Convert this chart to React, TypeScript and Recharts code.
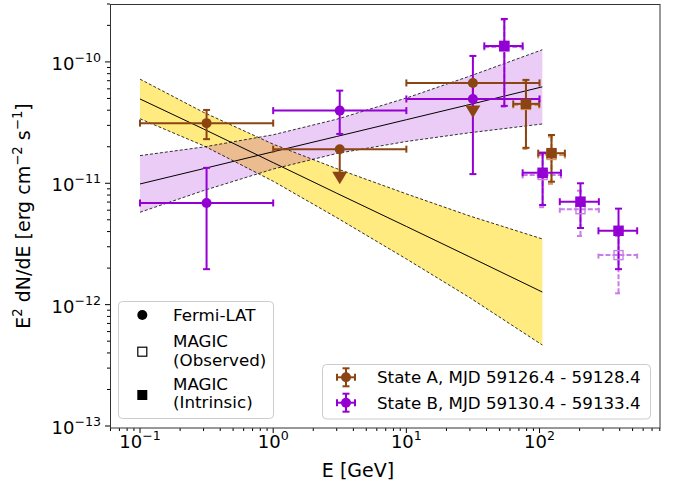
import React from 'react';
import { ComposedChart, XAxis, YAxis, Area, Line, Scatter, ErrorBar } from 'recharts';

// ---------- data ----------
const X_DOMAIN: [number, number] = [0.0595, 803];
const Y_DOMAIN: [number, number] = [9.63e-14, 3.0e-10];

const X_MAJOR = [0.1, 1, 10, 100];
const Y_MAJOR = [1e-13, 1e-12, 1e-11, 1e-10];
const MULT = [1, 2, 3, 4, 5, 6, 7, 8, 9];
const X_TICKS = [0.06, 0.07, 0.08, 0.09, ...[0.1, 1, 10, 100].flatMap((d) => MULT.map((m) => +(d * m).toPrecision(3)))].filter(
  (v) => v >= X_DOMAIN[0] && v <= X_DOMAIN[1]
);
const Y_TICKS = [1e-13, 1e-12, 1e-11, 1e-10].flatMap((d) => MULT.map((m) => +(d * m).toPrecision(3))).filter(
  (v) => v >= Y_DOMAIN[0] && v <= Y_DOMAIN[1]
);

// butterfly bands
const bandE = [0.1, 0.3, 1, 3, 10, 30, 105];
const bandA_lo = [3.4e-11, 2.04e-11, 1.04e-11, 5.21e-12, 2.38e-12, 1.14e-12, 4.65e-13];
const bandA_mid = [4.95e-11, 2.8e-11, 1.48e-11, 8.28e-12, 4.41e-12, 2.47e-12, 1.27e-12];
const bandA_hi = [7.21e-11, 3.84e-11, 2.1e-11, 1.32e-11, 8.18e-12, 5.37e-12, 3.48e-12];
const bandB_lo = [5.77e-12, 8.71e-12, 1.31e-11, 1.76e-11, 2.21e-11, 2.61e-11, 3.08e-11];
const bandB_mid = [9.87e-12, 1.32e-11, 1.82e-11, 2.43e-11, 3.34e-11, 4.46e-11, 6.23e-11];
const bandB_hi = [1.69e-11, 1.99e-11, 2.51e-11, 3.37e-11, 5.04e-11, 7.64e-11, 1.26e-10];

// Fermi-LAT, State A
const fermiA = [{ E: 0.316, Elo: 0.1, Ehi: 1, F: 3.13e-11, Flo: 2.31e-11, Fhi: 4.02e-11 }];
const fermiA_UL = [
  { E: 3.16, Elo: 1, Ehi: 10, F: 1.91e-11, Ftip: 1.11e-11 },
  { E: 31.6, Elo: 10, Ehi: 100, F: 6.71e-11, Ftip: 3.91e-11 },
];
// Fermi-LAT, State B
const fermiB = [
  { E: 0.316, Elo: 0.1, Ehi: 1, F: 6.88e-12, Flo: 1.96e-12, Fhi: 1.34e-11 },
  { E: 3.16, Elo: 1, Ehi: 10, F: 3.97e-11, Flo: 2.55e-11, Fhi: 5.8e-11 },
  { E: 31.6, Elo: 10, Ehi: 100, F: 4.95e-11, Flo: 1.19e-11, Fhi: 1.12e-10 },
];
// MAGIC, State A
const magicA_int = [
  { E: 79.1, Elo: 63.5, Ehi: 99.5, F: 4.51e-11, Flo: 1.96e-11, Fhi: 7.11e-11 },
  { E: 123, Elo: 97.8, Ehi: 155, F: 1.77e-11, Flo: 1.03e-11, Fhi: 2.5e-11 },
];
const magicA_obs = [
  { E: 79.1, Elo: 63.5, Ehi: 99.5, F: 4.42e-11, Flo: 1.92e-11, Fhi: 6.98e-11 },
  { E: 123, Elo: 97.8, Ehi: 155, F: 1.71e-11, Flo: 0.99e-11, Fhi: 2.42e-11 },
];
// MAGIC, State B
const magicB_int = [
  { E: 54.4, Elo: 38.5, Ehi: 74.7, F: 1.355e-10, Flo: 4.34e-11, Fhi: 2.26e-10 },
  { E: 105.5, Elo: 74.7, Ehi: 144.8, F: 1.22e-11, Flo: 6.62e-12, Fhi: 1.79e-11 },
  { E: 203, Elo: 142, Ehi: 279, F: 7.05e-12, Flo: 4.28e-12, Fhi: 1.0e-11 },
  { E: 392, Elo: 277, Ehi: 541, F: 4.06e-12, Flo: 1.96e-12, Fhi: 6.18e-12 },
];
const magicB_obs = [
  { E: 54.4, Elo: 38.5, Ehi: 74.7, F: 1.33e-10, Flo: 4.25e-11, Fhi: 2.22e-10 },
  { E: 105.5, Elo: 74.7, Ehi: 144.8, F: 1.17e-11, Flo: 6.35e-12, Fhi: 1.72e-11 },
  { E: 203, Elo: 142, Ehi: 279, F: 6.11e-12, Flo: 3.68e-12, Fhi: 8.69e-12 },
  { E: 392, Elo: 277, Ehi: 541, F: 2.56e-12, Flo: 1.24e-12, Fhi: 3.68e-12 },
];

// ---------- styles ----------
const BROWN = '#8B4513';
const BROWN_LIGHT = '#D8955E';
const VIOLET = '#9400D3';
const VIOLET_LIGHT = '#C77EE8';
const FONT = 'DejaVu Sans';

const toPts = (arr: any[]) =>
  arr.map((d) => ({ x: d.E, y: d.F, ex: [d.E - d.Elo, d.Ehi - d.E], ey: [d.F - d.Flo, d.Fhi - d.F] }));
const toUL = (arr: any[]) => arr.map((d) => ({ x: d.E, y: d.F, ex: [d.E - d.Elo, d.Ehi - d.E], ey: [d.F - d.Ftip, 0] }));
const toTip = (arr: any[]) => arr.map((d) => ({ x: d.E, y: d.Ftip }));

const bandRows = bandE.map((x, i) => ({
  x,
  aBand: [bandA_lo[i], bandA_hi[i]],
  aLo: bandA_lo[i],
  aMid: bandA_mid[i],
  aHi: bandA_hi[i],
  bBand: [bandB_lo[i], bandB_hi[i]],
  bLo: bandB_lo[i],
  bMid: bandB_mid[i],
  bHi: bandB_hi[i],
}));

const isMajor = (v: number) => Math.abs(Math.log10(v) - Math.round(Math.log10(v))) < 1e-6;
const expStr = (v: number) => {
  const e = Math.round(Math.log10(v));
  return e < 0 ? '\u2212' + -e : String(e);
};

const XTick = (props: any) => {
  const { x, y, payload } = props;
  const v = payload.value;
  const major = isMajor(v);
  return (
    <g>
      <line x1={x} x2={x} y1={y} y2={y + (major ? 5 : 3)} stroke="#000" strokeWidth={1} />
      {major && (
        <text x={x} y={y + 20} textAnchor="middle" fontSize={18} fontFamily={FONT} fill="#000">
          10
          <tspan dy={-8} fontSize={12.6}>
            {expStr(v)}
          </tspan>
        </text>
      )}
    </g>
  );
};

const YTick = (props: any) => {
  const { x, y, payload } = props;
  const v = payload.value;
  const major = isMajor(v);
  return (
    <g>
      <line x1={x} x2={x - (major ? 5 : 3)} y1={y} y2={y} stroke="#000" strokeWidth={1} />
      {major && (
        <text x={x - 9} y={y + 8} textAnchor="end" fontSize={18} fontFamily={FONT} fill="#000">
          10
          <tspan dy={-8} fontSize={12.6}>
            {expStr(v)}
          </tspan>
        </text>
      )}
    </g>
  );
};

const circleShape = (color: string, r = 5) => (p: any) => <circle cx={p.cx} cy={p.cy} r={r} fill={color} />;
const squareShape = (color: string, s = 10.5) => (p: any) => (
  <rect x={p.cx - s / 2} y={p.cy - s / 2} width={s} height={s} fill={color} />
);
const openSquareShape = (color: string, s = 9) => (p: any) => (
  <rect x={p.cx - s / 2} y={p.cy - s / 2} width={s} height={s} fill="none" stroke={color} strokeWidth={1.4} />
);
const triShape = (color: string) => (p: any) => (
  <polygon points={`${p.cx - 7.5},${p.cy - 6} ${p.cx + 7.5},${p.cy - 6} ${p.cx},${p.cy + 6.5}`} fill={color} />
);

const LegendErr = ({ x, y, color }: { x: number; y: number; color: string }) => (
  <g stroke={color} strokeWidth={2}>
    <line x1={x - 9} x2={x + 9} y1={y} y2={y} />
    <line x1={x} x2={x} y1={y - 9} y2={y + 9} />
    <line x1={x - 9} x2={x - 9} y1={y - 3.5} y2={y + 3.5} />
    <line x1={x + 9} x2={x + 9} y1={y - 3.5} y2={y + 3.5} />
    <line x1={x - 3.5} x2={x + 3.5} y1={y - 9} y2={y - 9} />
    <line x1={x - 3.5} x2={x + 3.5} y1={y + 9} y2={y + 9} />
    <circle cx={x} cy={y} r={5} fill={color} stroke="none" />
  </g>
);

export default function App() {
  const W = 674;
  const H = 484;
  return (
    <div style={{ position: 'absolute', left: 0, top: 0, width: W, height: H, background: '#fff' }}>
      <ComposedChart
        width={W}
        height={H}
        data={bandRows}
        margin={{ top: 4, right: 14, bottom: 26, left: 50 }}
      >
        <XAxis
          dataKey="x"
          type="number"
          scale="log"
          domain={X_DOMAIN}
          allowDataOverflow
          ticks={X_TICKS}
          interval={0}
          tick={<XTick />}
          tickLine={false}
          axisLine={false}
          tickSize={0}
          tickMargin={0}
          height={30}
        />
        <YAxis
          dataKey="y"
          type="number"
          scale="log"
          domain={Y_DOMAIN}
          allowDataOverflow
          ticks={Y_TICKS}
          interval={0}
          tick={<YTick />}
          tickLine={false}
          axisLine={false}
          tickSize={0}
          tickMargin={0}
          width={60}
        />
        <Area type="linear" dataKey="aBand" fill="#FFD700" fillOpacity={0.5} stroke="none" isAnimationActive={false} />
        <Area type="linear" dataKey="bBand" fill="#9400D3" fillOpacity={0.2} stroke="none" isAnimationActive={false} />
        <Line type="linear" dataKey="aMid" stroke="#000" strokeWidth={1} dot={false} isAnimationActive={false} />
        <Line type="linear" dataKey="aLo" stroke="#000" strokeWidth={0.8} strokeDasharray="3 2" dot={false} isAnimationActive={false} />
        <Line type="linear" dataKey="aHi" stroke="#000" strokeWidth={0.8} strokeDasharray="3 2" dot={false} isAnimationActive={false} />
        <Line type="linear" dataKey="bMid" stroke="#000" strokeWidth={1} dot={false} isAnimationActive={false} />
        <Line type="linear" dataKey="bLo" stroke="#000" strokeWidth={0.8} strokeDasharray="3 2" dot={false} isAnimationActive={false} />
        <Line type="linear" dataKey="bHi" stroke="#000" strokeWidth={0.8} strokeDasharray="3 2" dot={false} isAnimationActive={false} />

        {/* MAGIC observed (dashed, light) */}
        <Scatter data={toPts(magicA_obs)} dataKey="y" shape={openSquareShape(BROWN_LIGHT)} isAnimationActive={false}>
          <ErrorBar dataKey="ex" direction="x" width={3.5} stroke={BROWN_LIGHT} strokeWidth={2} strokeDasharray="5 2" />
          <ErrorBar dataKey="ey" direction="y" width={3.5} stroke={BROWN_LIGHT} strokeWidth={2} strokeDasharray="5 2" />
        </Scatter>
        <Scatter data={toPts(magicB_obs)} dataKey="y" shape={openSquareShape(VIOLET_LIGHT)} isAnimationActive={false}>
          <ErrorBar dataKey="ex" direction="x" width={3.5} stroke={VIOLET_LIGHT} strokeWidth={2} strokeDasharray="5 2" />
          <ErrorBar dataKey="ey" direction="y" width={3.5} stroke={VIOLET_LIGHT} strokeWidth={2} strokeDasharray="5 2" />
        </Scatter>

        {/* State A */}
        <Scatter data={toPts(fermiA)} dataKey="y" shape={circleShape(BROWN)} isAnimationActive={false}>
          <ErrorBar dataKey="ex" direction="x" width={3.5} stroke={BROWN} strokeWidth={2} />
          <ErrorBar dataKey="ey" direction="y" width={3.5} stroke={BROWN} strokeWidth={2} />
        </Scatter>
        <Scatter data={toUL(fermiA_UL)} dataKey="y" shape={circleShape(BROWN)} isAnimationActive={false}>
          <ErrorBar dataKey="ex" direction="x" width={3.5} stroke={BROWN} strokeWidth={2} />
          <ErrorBar dataKey="ey" direction="y" width={0} stroke={BROWN} strokeWidth={2} />
        </Scatter>
        <Scatter data={toTip(fermiA_UL)} dataKey="y" shape={triShape(BROWN)} isAnimationActive={false} />
        <Scatter data={toPts(magicA_int)} dataKey="y" shape={squareShape(BROWN)} isAnimationActive={false}>
          <ErrorBar dataKey="ex" direction="x" width={3.5} stroke={BROWN} strokeWidth={2} />
          <ErrorBar dataKey="ey" direction="y" width={3.5} stroke={BROWN} strokeWidth={2} />
        </Scatter>

        {/* State B */}
        <Scatter data={toPts(fermiB)} dataKey="y" shape={circleShape(VIOLET)} isAnimationActive={false}>
          <ErrorBar dataKey="ex" direction="x" width={3.5} stroke={VIOLET} strokeWidth={2} />
          <ErrorBar dataKey="ey" direction="y" width={3.5} stroke={VIOLET} strokeWidth={2} />
        </Scatter>
        <Scatter data={toPts(magicB_int)} dataKey="y" shape={squareShape(VIOLET)} isAnimationActive={false}>
          <ErrorBar dataKey="ex" direction="x" width={3.5} stroke={VIOLET} strokeWidth={2} />
          <ErrorBar dataKey="ey" direction="y" width={3.5} stroke={VIOLET} strokeWidth={2} />
        </Scatter>
      </ComposedChart>

      <svg
        width={W}
        height={H}
        style={{ position: 'absolute', left: 0, top: 0, pointerEvents: 'none' }}
        fontFamily={FONT}
      >
        <rect x={110.5} y={4.5} width={549.5} height={423.5} fill="none" stroke="#333" strokeWidth={1} />

        {/* axis labels */}
        <text x={358} y={477} textAnchor="middle" fontSize={19} fill="#000">
          E [GeV]
        </text>
        <text x={30} y={216} textAnchor="middle" fontSize={19} fill="#000" transform="rotate(-90, 30, 216)">
          E<tspan dy={-8} fontSize={13.3}>2</tspan>
          <tspan dy={8}> dN/dE [erg cm</tspan>
          <tspan dy={-8} fontSize={13.3}>{'\u22122'}</tspan>
          <tspan dy={8}> s</tspan>
          <tspan dy={-8} fontSize={13.3}>{'\u22121'}</tspan>
          <tspan dy={8}>]</tspan>
        </text>

        {/* legend 1 */}
        <rect x={118.5} y={301.5} width={155} height={117} rx={4} fill="#fff" fillOpacity={0.8} stroke="#ccc" strokeWidth={1} />
        <circle cx={142.3} cy={315} r={5} fill="#000" />
        <rect x={137.8} y={347.2} width={9} height={9} fill="none" stroke="#000" strokeWidth={1.2} />
        <rect x={137.3} y={390} width={10} height={10} fill="#000" />
        <g fontSize={16.7} fill="#000">
          <text x={173} y={321}>Fermi-LAT</text>
          <text x={173} y={347}>MAGIC</text>
          <text x={173} y={365.5}>(Observed)</text>
          <text x={173} y={389.5}>MAGIC</text>
          <text x={173} y={408}>(Intrinsic)</text>
        </g>

        {/* legend 2 */}
        <rect x={322.5} y={364.5} width={328} height={54.5} rx={4} fill="#fff" fillOpacity={0.8} stroke="#ccc" strokeWidth={1} />
        <LegendErr x={346} y={377.3} color={BROWN} />
        <LegendErr x={346} y={402.7} color={VIOLET} />
        <g fontSize={16.7} fill="#000">
          <text x={377} y={383.3}>State A, MJD 59126.4 - 59128.4</text>
          <text x={377} y={408.7}>State B, MJD 59130.4 - 59133.4</text>
        </g>
      </svg>
    </div>
  );
}
